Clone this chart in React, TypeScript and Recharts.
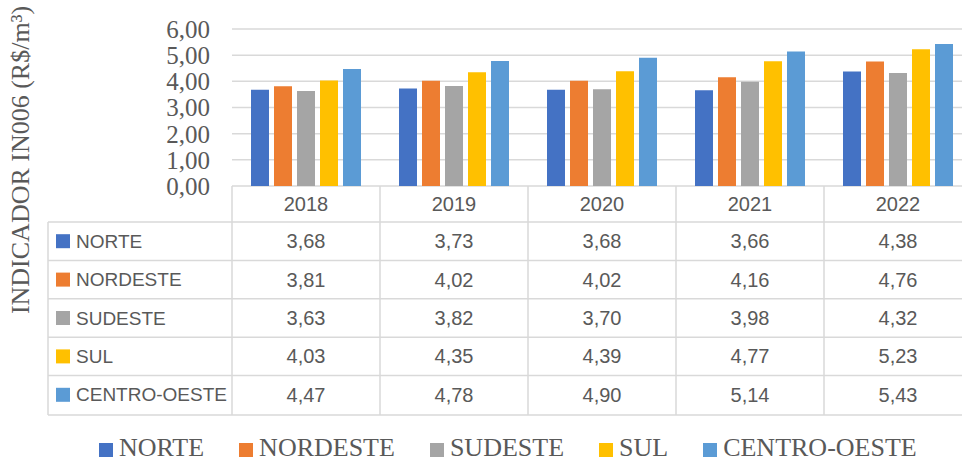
import { BarChart, Bar, XAxis, YAxis, CartesianGrid } from "recharts";

const years = ["2018", "2019", "2020", "2021", "2022"];
const norte = [3.68, 3.73, 3.68, 3.66, 4.38];
const nordeste = [3.81, 4.02, 4.02, 4.16, 4.76];
const sudeste = [3.63, 3.82, 3.7, 3.98, 4.32];
const sul = [4.03, 4.35, 4.39, 4.77, 5.23];
const centroOeste = [4.47, 4.78, 4.9, 5.14, 5.43];
const yTicks = [0, 1, 2, 3, 4, 5, 6];

const series = [
  { key: "norte", name: "NORTE", values: norte, color: "#4472C4" },
  { key: "nordeste", name: "NORDESTE", values: nordeste, color: "#ED7D31" },
  { key: "sudeste", name: "SUDESTE", values: sudeste, color: "#A5A5A5" },
  { key: "sul", name: "SUL", values: sul, color: "#FFC000" },
  { key: "centroOeste", name: "CENTRO-OESTE", values: centroOeste, color: "#5B9BD5" },
];

const data = years.map((year, i) => {
  const row: Record<string, string | number> = { year };
  series.forEach((s) => (row[s.key] = s.values[i]));
  return row;
});

const W = 980;
const H = 461;
const M = { top: 29, right: 8, left: 0, bottom: 46 };
const Y_W = 232;
const TABLE_H = 229;
const COL = (W - M.left - M.right - Y_W) / years.length;
const HEAD_H = 36;
const ROW_H = 38.4;
const TABLE_LEFT = 48;
const LINE = "#d9d9d9";
const TEXT = "#595959";
const SANS = "'Liberation Sans', Arial, sans-serif";
const SERIF = "'Liberation Serif', 'Times New Roman', serif";

const fmt = (v: number) => v.toFixed(2).replace(".", ",");

// the data table under the plot is drawn one column per x tick
function TableTick(props: any) {
  const { x, y, payload, index } = props;
  const left = x - COL / 2;
  const right = W - M.right;
  const rowsTop = y + HEAD_H;
  const bottom = y + TABLE_H;
  return (
    <g>
      <line x1={left} x2={left} y1={y} y2={bottom} stroke={LINE} strokeWidth={1.5} />
      {index === years.length - 1 && (
        <line x1={left + COL} x2={left + COL} y1={y} y2={bottom} stroke={LINE} strokeWidth={1.5} />
      )}
      <text x={x} y={y + HEAD_H / 2} textAnchor="middle" dominantBaseline="central" fontSize={20} fontFamily={SANS} fill={TEXT}>
        {payload.value}
      </text>
      {series.map((s, r) => (
        <text
          key={s.key}
          x={x}
          y={rowsTop + ROW_H * r + ROW_H / 2}
          textAnchor="middle"
          dominantBaseline="central"
          fontSize={20}
          fontFamily={SANS}
          fill={TEXT}
        >
          {fmt(s.values[index])}
        </text>
      ))}
      {index === 0 && (
        <g>
          {series.map((_, r) => (
            <line key={r} x1={TABLE_LEFT} x2={right} y1={rowsTop + ROW_H * r} y2={rowsTop + ROW_H * r} stroke={LINE} strokeWidth={1.5} />
          ))}
          <line x1={TABLE_LEFT} x2={right} y1={bottom} y2={bottom} stroke={LINE} strokeWidth={1.5} />
          <line x1={TABLE_LEFT} x2={TABLE_LEFT} y1={rowsTop} y2={bottom} stroke={LINE} strokeWidth={1.5} />
          {series.map((s, r) => (
            <g key={s.key}>
              <rect x={56} y={rowsTop + ROW_H * r + ROW_H / 2 - 7} width={14} height={14} fill={s.color} />
              <text
                x={76}
                y={rowsTop + ROW_H * r + ROW_H / 2}
                dominantBaseline="central"
                fontSize={19}
                fontFamily={SANS}
                fill={TEXT}
              >
                {s.name}
              </text>
            </g>
          ))}
        </g>
      )}
    </g>
  );
}

function YLabel() {
  return (
    <text
      x={20}
      y={160}
      transform="rotate(-90 20 160)"
      textAnchor="middle"
      dominantBaseline="central"
      fontSize={26}
      fontFamily={SERIF}
      fill={TEXT}
    >
      INDICADOR IN006 (R$/m³)
    </text>
  );
}

export default function App() {
  return (
    <div style={{ position: "fixed", left: 0, top: 0, width: 962, height: 461, overflow: "hidden", background: "#fff" }}>
      <BarChart width={W} height={H} data={data} margin={M} barSize={18} barGap={5}>
        <CartesianGrid vertical={false} stroke={LINE} strokeWidth={1.5} />
        <XAxis
          dataKey="year"
          height={TABLE_H}
          axisLine={false}
          tickLine={false}
          tickSize={0}
          tickMargin={0}
          interval={0}
          tick={<TableTick />}
        />
        <YAxis
          width={Y_W}
          domain={[0, 6]}
          ticks={yTicks}
          interval={0}
          axisLine={false}
          tickLine={false}
          tickSize={0}
          tickMargin={22}
          tickFormatter={fmt}
          tick={{ fontSize: 25, fontFamily: SERIF, fill: TEXT }}
          label={<YLabel />}
        />
        {series.map((s) => (
          <Bar key={s.key} dataKey={s.key} name={s.name} fill={s.color} isAnimationActive={false} />
        ))}
      </BarChart>
      <div
        style={{
          position: "absolute",
          left: 99,
          top: 437,
          display: "flex",
          gap: 35,
          fontFamily: SERIF,
          fontSize: 26,
          lineHeight: "22px",
          color: TEXT,
          whiteSpace: "nowrap",
        }}
      >
        {series.map((s) => (
          <div key={s.key} style={{ display: "flex", alignItems: "center" }}>
            <span style={{ display: "inline-block", width: 14, height: 14, background: s.color, marginRight: 6, marginTop: 3 }} />
            <span>{s.name}</span>
          </div>
        ))}
      </div>
    </div>
  );
}
